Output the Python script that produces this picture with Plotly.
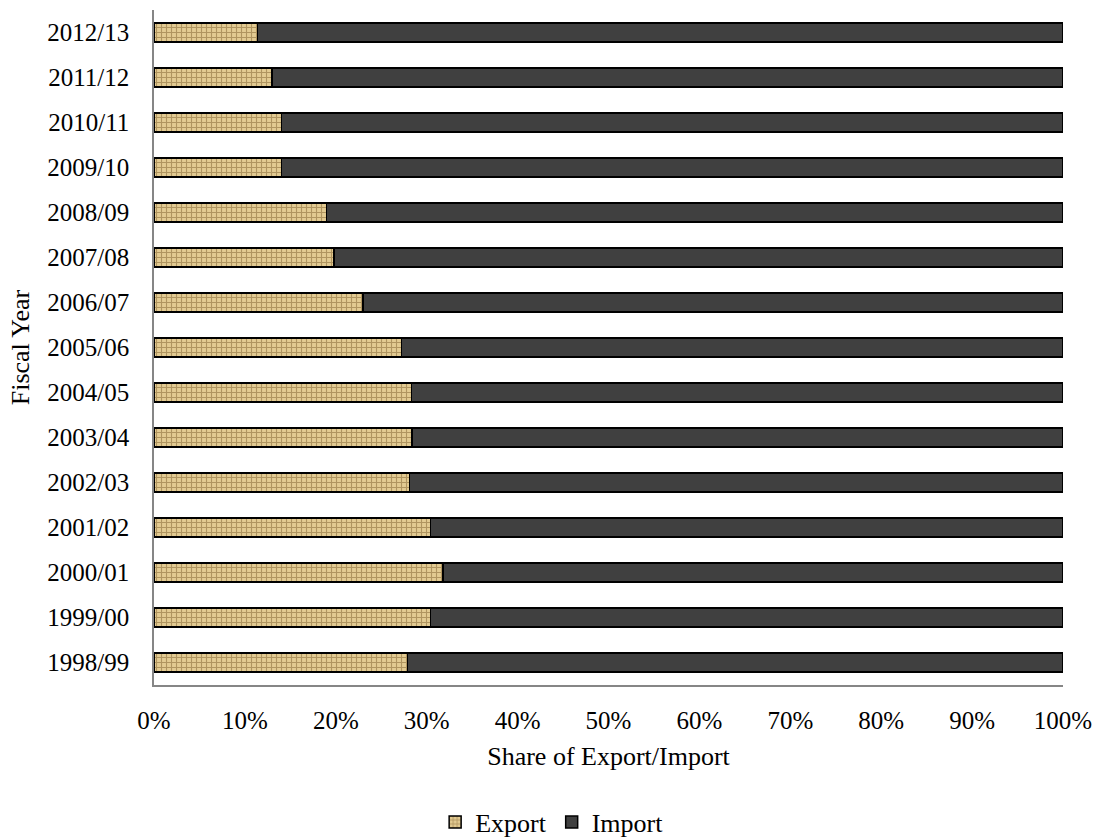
import plotly.graph_objects as go

years = ["1998/99", "1999/00", "2000/01", "2001/02", "2002/03", "2003/04", "2004/05",
         "2005/06", "2006/07", "2007/08", "2008/09", "2009/10", "2010/11", "2011/12", "2012/13"]
export_share = [27.9, 30.4, 31.8, 30.4, 28.1, 28.4, 28.3, 27.2, 23.0, 19.8, 19.0, 14.0, 14.0, 13.0, 11.4]
import_share = [round(100 - v, 1) for v in export_share]

font_family = "Liberation Serif, Times New Roman, serif"

fig = go.Figure()
fig.add_trace(go.Bar(
    y=years, x=export_share, orientation="h", name="Export",
    marker=dict(color="#D8BE86", line=dict(color="#000000", width=1.5),
                pattern=dict(shape="+", fgcolor="#7E5F2E", bgcolor="#E3CB92", size=5, solidity=0.4)),
))
fig.add_trace(go.Bar(
    y=years, x=import_share, orientation="h", name="Import",
    marker=dict(color="#404040", line=dict(color="#000000", width=1.5)),
))

fig.update_layout(
    barmode="stack",
    bargap=0.58,
    width=1099, height=838,
    margin=dict(l=154, r=36, t=10, b=153, autoexpand=False),
    paper_bgcolor="white", plot_bgcolor="white",
    font=dict(family=font_family, size=25, color="#000000"),
    showlegend=True,
    legend=dict(orientation="h", x=0.438, xanchor="center", y=-0.203, yanchor="middle",
                font=dict(size=26), itemwidth=30, traceorder="normal"),
    xaxis=dict(range=[0, 100], tickvals=list(range(0, 101, 10)),
               ticktext=[f"{v}%" for v in range(0, 101, 10)],
               tickfont=dict(size=25), automargin=False,
               showgrid=False, zeroline=False, showline=True, linecolor="#868686", linewidth=1.5,
               ticks="", ticklabelstandoff=12,
               title=dict(text="Share of Export/Import", font=dict(size=26), standoff=14)),
    yaxis=dict(showgrid=False, zeroline=False, showline=True, linecolor="#868686", linewidth=1.5,
               tickfont=dict(size=25), automargin=False,
               ticks="", ticklabelstandoff=18,
               title=dict(text="Fiscal Year", font=dict(size=26), standoff=10)),
)

fig.write_html("out.html")
